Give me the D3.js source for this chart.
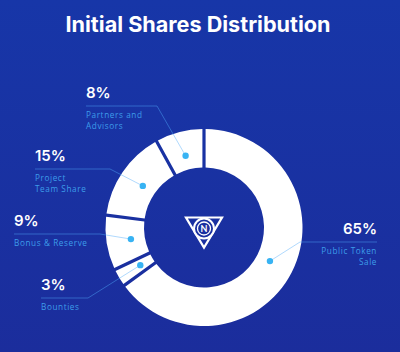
<!DOCTYPE html>
<html><head><meta charset="utf-8">
<script src="https://cdn.jsdelivr.net/npm/d3@7"></script>
<style>html,body{margin:0;padding:0;background:#1a30a0;}svg{display:block;}</style>
</head><body>
<script>
const categories = ["Public Token Sale", "Bounties", "Bonus & Reserve", "Project Team Share", "Partners and Advisors"];
const shares = [65, 3, 9, 15, 8];
const pctLabels = ["65%", "3%", "9%", "15%", "8%"];
const nameLines = [["Public Token", "Sale"], ["Bounties"], ["Bonus & Reserve"], ["Project", "Team Share"], ["Partners and", "Advisors"]];
const title = "Initial Shares Distribution";

const W = 400, H = 352;
const svg = d3.select("body").append("svg").attr("width", W).attr("height", H);
const defs = svg.append("defs");
const grad = defs.append("linearGradient").attr("id", "bg").attr("x1", 0).attr("y1", 0).attr("x2", 0).attr("y2", 1);
grad.append("stop").attr("offset", "0").attr("stop-color", "#1736a8");
grad.append("stop").attr("offset", "1").attr("stop-color", "#1b2d9c");
svg.append("rect").attr("width", W).attr("height", H).attr("fill", "url(#bg)");

svg.append("text").attr("x", 198).attr("y", 32).attr("text-anchor", "middle")
  .attr("fill", "#fff").attr("font-family", "Inter, Lato, sans-serif").attr("font-weight", 700)
  .attr("font-size", 21).attr("textLength", 265).attr("lengthAdjust", "spacingAndGlyphs").text(title);

const cx = 204, cy = 227.5, rOuter = 98.5, rInner = 60, rDot = 74;
const pie = d3.pie().sort(null).value(d => d);
const arcs = pie(shares);
const arc = d3.arc().innerRadius(rInner).outerRadius(rOuter).padAngle(0.032).padRadius(100);
const g = svg.append("g").attr("transform", `translate(${cx},${cy})`);
g.selectAll("path.slice").data(arcs).enter().append("path").attr("class", "slice")
  .attr("d", arc).attr("fill", "#ffffff");

// label layout
const labelPos = [
  {x: 377, y: 242, anchor: "end", ux: 300},
  {x: 41, y: 298, anchor: "start", ux: 88},
  {x: 14, y: 234, anchor: "start", ux: 100},
  {x: 35, y: 169, anchor: "start", ux: 110},
  {x: 86, y: 106, anchor: "start", ux: 157}
];
const dotArc = d3.arc().innerRadius(rDot).outerRadius(rDot);
const lab = svg.append("g");
arcs.forEach((a, i) => {
  const c = dotArc.centroid(a);
  const dx = cx + c[0], dy = cy + c[1];
  const p = labelPos[i];
  const pts = [[p.x, p.y], [p.ux, p.y], [dx, dy]];
  lab.append("path").attr("d", d3.line()(pts)).attr("fill", "none")
    .attr("stroke", "rgba(80,170,250,0.45)").attr("stroke-width", 1);
  lab.append("circle").attr("cx", dx).attr("cy", dy).attr("r", 3.2).attr("fill", "#38b3f3");
  lab.append("text").attr("x", p.x).attr("y", p.y - 8).attr("text-anchor", p.anchor)
    .attr("fill", "#fff").attr("font-family", "Inter, Lato, sans-serif").attr("font-weight", 600)
    .attr("font-size", 15).text(pctLabels[i]);
  nameLines[i].forEach((t, k) => {
    lab.append("text").attr("x", p.x).attr("y", p.y + 12 + k * 11).attr("text-anchor", p.anchor)
      .attr("fill", "#3d9de9").attr("font-family", "'Open Sans', Lato, sans-serif")
      .attr("font-size", 8.2).attr("letter-spacing", 0.6).text(t);
  });
});

// logo
const lg = svg.append("g").attr("transform", `translate(${cx},${cy + 1})`)
  .attr("fill", "none").attr("stroke", "#fff");
lg.append("path").attr("d", "M-18,-11 L18,-11 L0,19 Z").attr("stroke-width", 2.2);
lg.append("circle").attr("r", 10).attr("stroke-width", 2).attr("fill", "#1a30a0");
lg.append("circle").attr("r", 6.5).attr("stroke-width", 1.3);
lg.append("text").attr("y", 3.5).attr("text-anchor", "middle").attr("fill", "#fff").attr("stroke", "none")
  .attr("font-family", "Lato, sans-serif").attr("font-weight", 700).attr("font-size", 9).text("N");
</script>
</body></html>
